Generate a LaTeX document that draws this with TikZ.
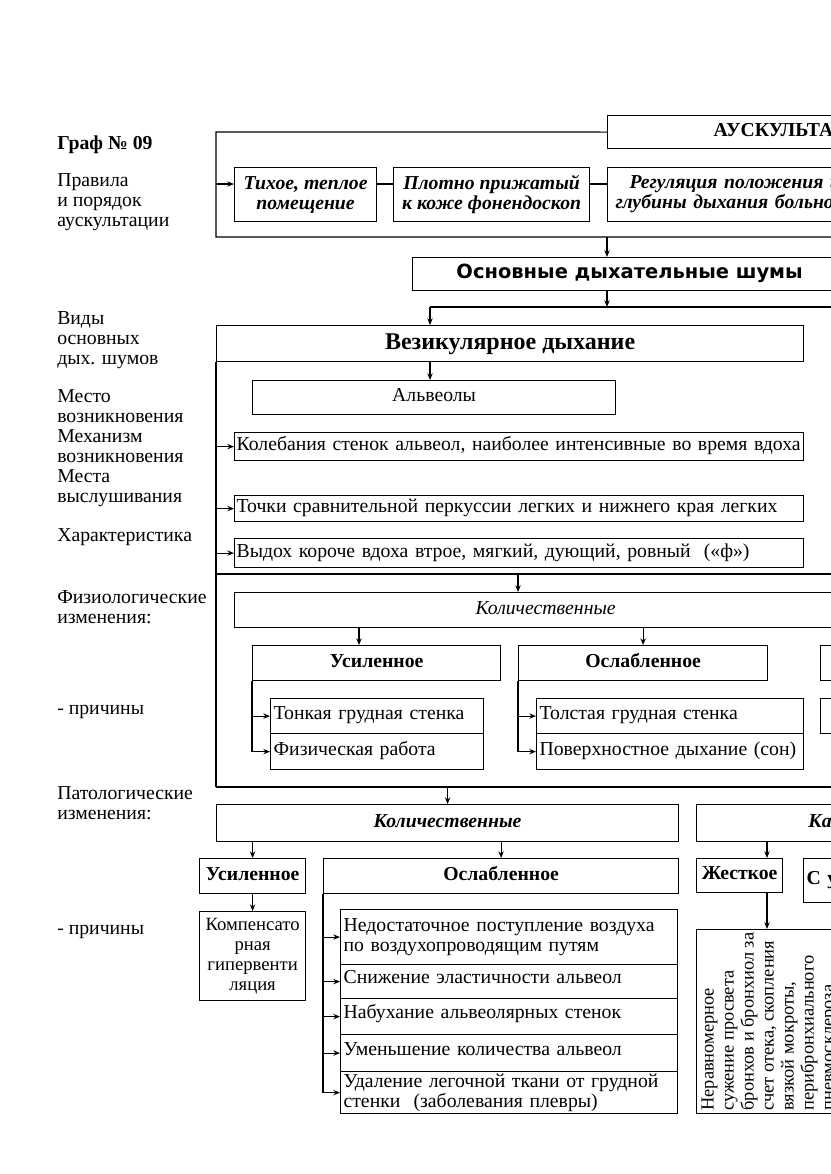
\documentclass[tikz,border=0pt]{standalone}
\usepackage{fontspec}
\setmainfont{Liberation Serif}
\newfontfamily\headsans{DejaVu Sans}
\usepackage{graphicx}
\usetikzlibrary{arrows.meta, positioning}
\newcommand{\boxfont}{\fontsize{14.8}{15}\selectfont}
\tikzset{
    box/.style={
        rectangle, draw=black, line width=0.9pt, inner sep=0pt,
        anchor=north west, align=center, font=\boxfont,
        text height=10.5pt, text depth=4pt
    },
    leftbox/.style={box, align=left},
    multi/.style={text height={}, text depth={}},
    boxsize/.style 2 args={minimum width=#1*0.75pt, minimum height=#2*0.75pt},
    sidelabel/.style={
        anchor=west, inner sep=0pt, align=left, font=\boxfont
    },
    line/.style={draw=black, line width=0.9pt},
    arrow/.style={line, -{Stealth[length=5pt, width=4pt]}}
}

\begin{document}
\begin{tikzpicture}[x=0.75pt, y=-0.75pt]
    \useasboundingbox (0,0) rectangle (831,1174);
    \clip (0,0) rectangle (831,1174);

    % LEFT LABELS
    \node[sidelabel, font=\boxfont\bfseries] (graf) at (57,145) {Граф № 09};
    \node[sidelabel] (rules) at (57,202) {Правила\\и порядок\\аускультации};
    \node[sidelabel] (kinds) at (57,340) {Виды\\основных\\дых. шумов};
    \node[sidelabel] (origin) at (57,448) {Место\\возникновения\\Механизм\\возникновения\\Места\\выслушивания};
    \node[sidelabel] (feature) at (57,537) {Характеристика};
    \node[sidelabel] (physlabel) at (57,607) {Физиологические\\изменения:};
    \node[sidelabel] (physcause) at (57,712) {- причины};
    \node[sidelabel] (pathlabel) at (57,803) {Патологические\\изменения:};
    \node[sidelabel] (pathcause) at (57,932) {- причины};

    % AUSCULTATION RULES
    \node[box, boxsize={393}{33}, font=\boxfont\bfseries, text width=135.75pt, align=left] (ausk) at (607,115) {АУСКУЛЬТА};
    \node[box, multi, boxsize={142}{54}, font=\boxfont\bfseries\itshape] (quiet) at (234,167) {Тихое, теплое\\помещение};
    \node[box, multi, boxsize={196}{54}, font=\boxfont\bfseries\itshape] (steth) at (393,167) {Плотно прижатый\\к коже фонендоскоп};
    \node[box, multi, boxsize={393}{54}, font=\boxfont\bfseries\itshape, text width=282.75pt, align=left] (posit) at (607,167) {\hspace*{10.5pt}Регуляция положения и\\глубины дыхания больно};
    \coordinate (topleft) at (216,132);
    \coordinate (botleft) at (216,237);
    \coordinate (botright) at (840,237);
    \coordinate (rowin) at (216,184);
    \draw[line] (ausk.west) -- (topleft) -- (botleft) -- (botright);
    \draw[arrow] (rowin) -- (rowin -| quiet.west);
    \draw[line] (rowin -| quiet.east) -- (rowin -| steth.west);
    \draw[line] (rowin -| steth.east) -- (rowin -| posit.west);

    % MAIN SOUNDS
    \node[box, boxsize={434}{33}, font=\headsans\bfseries\fontsize{14.6}{18}\selectfont] (osnov) at (412,257) {Основные дыхательные шумы};
    \draw[arrow] (ausk.west |- botleft) -- (ausk.west |- osnov.north);
    \coordinate (split) at (430,307);
    \coordinate (splitright) at (840,307);
    \draw[arrow] (ausk.west |- osnov.south) -- (ausk.west |- split);
    \draw[line] (split) -- (splitright);

    % VESICULAR BREATHING
    \node[box, boxsize={587}{36}, font=\bfseries\fontsize{18}{20}\selectfont, text height=12.5pt] (vez) at (216,325) {Везикулярное дыхание};
    \draw[arrow] (split) -- (split |- vez.north);
    \node[box, boxsize={363}{34}] (alv) at (252,380) {Альвеолы};
    \draw[arrow] (split |- vez.south) -- (split |- alv.north);
    \node[leftbox, boxsize={569}{28}, text width=423.75pt] (mech) at (234,432) {Колебания стенок альвеол, наиболее интенсивные во время вдоха};
    \node[leftbox, boxsize={569}{26}, text width=423.75pt] (places) at (234,495) {Точки сравнительной перкуссии легких и нижнего края легких};
    \node[leftbox, boxsize={569}{29}, text width=423.75pt] (charact) at (234,538) {Выдох короче вдоха втрое, мягкий, дующий, ровный \ («ф»)};
    \coordinate (physline) at (216,574);
    \coordinate (physright) at (840,574);
    \coordinate (pathline) at (216,787);
    \coordinate (pathright) at (840,787);
    \draw[line] (vez.south west) -- (pathline);
    \draw[line] (physline) -- (physright);
    \draw[line] (pathline) -- (pathright);
    \draw[arrow] (vez.west |- mech.west) -- (mech.west);
    \draw[arrow] (vez.west |- places.west) -- (places.west);
    \draw[arrow] (vez.west |- charact.west) -- (charact.west);

    % PHYSIOLOGICAL CHANGES
    \coordinate (physin) at (518,574);
    \coordinate (upx) at (359,0);
    \node[box, boxsize={622}{35}, font=\boxfont\itshape] (physq) at (234,592) {Количественные};
    \draw[arrow] (physin) -- (physin |- physq.north);
    \node[box, boxsize={248}{35}, font=\boxfont\bfseries] (physup) at (252,645) {Усиленное};
    \node[box, boxsize={249}{35}, font=\boxfont\bfseries] (physdown) at (518,645) {Ослабленное};
    \node[box, boxsize={80}{35}] (physthird) at (820,645) {};
    \node[box, boxsize={80}{35}] (physthirdc) at (820,698) {};
    \draw[arrow] (physq.south -| upx) -- (physup.north -| upx);
    \draw[arrow] (physq.south -| physdown.north) -- (physdown.north);
    \node[leftbox, boxsize={213}{35}, text width=155.25pt, text depth=6pt] (thin) at (270,698) {Тонкая грудная стенка};
    \node[leftbox, boxsize={213}{36}, text width=155.25pt] (work) at (270,733) {Физическая работа};
    \node[leftbox, boxsize={267}{35}, text width=195.75pt, text depth=6pt] (thick) at (536,698) {Толстая грудная стенка};
    \node[leftbox, boxsize={267}{36}, text width=195.75pt] (sleep) at (536,733) {Поверхностное дыхание (сон)};
    \draw[arrow] (physup.south west) |- (thin.west);
    \draw[arrow] (physup.south west) |- (work.west);
    \draw[arrow] (physdown.south west) |- (thick.west);
    \draw[arrow] (physdown.south west) |- (sleep.west);

    % PATHOLOGICAL CHANGES
    \node[box, boxsize={462}{37}, font=\boxfont\bfseries\itshape] (pathq) at (216,804) {Количественные};
    \draw[arrow] (pathq.north |- pathline) -- (pathq.north);
    \node[box, boxsize={247}{37}, font=\boxfont\bfseries\itshape] (pathk) at (696,804) {Ка};
    \node[box, boxsize={106}{35}, font=\boxfont\bfseries] (pathup) at (199,858) {Усиленное};
    \node[box, boxsize={355}{35}, font=\boxfont\bfseries] (pathdown) at (323,858) {Ослабленное};
    \draw[arrow] (pathq.south -| pathup.north) -- (pathup.north);
    \draw[arrow] (pathq.south -| pathdown.north) -- (pathdown.north);
    \node[box, boxsize={86}{34}, font=\boxfont\bfseries] (rigid) at (696,858) {Жесткое};
    \node[box, boxsize={100}{44}, font=\boxfont\bfseries, text width=70.5pt, align=left] (withx) at (803,858) {С у};
    \coordinate (rigidx) at (767,0);
    \draw[arrow] (pathk.south -| rigidx) -- (rigid.north -| rigidx);
    \node[box, multi, boxsize={146}{184}, font=\fontsize{13.8}{15}\selectfont] (narrow) at (696,929) {\rotatebox{90}{\begin{tabular}{@{}l@{}}
        Неравномерное\\сужение просвета\\бронхов и бронхиол за\\счет отека, скопления\\
        вязкой мокроты,\\перибронхиального\\пневмосклероза\end{tabular}}};
    \draw[arrow] (rigid.south -| rigidx) -- (narrow.north -| rigidx);

    \node[box, multi, boxsize={106}{89}, font=\fontsize{14}{15}\selectfont] (comp) at (199,911) {Компенсато\\рная\\гипервенти\\ляция};
    \draw[arrow] (pathup.south) -- (comp.north);
    \node[leftbox, multi, boxsize={337}{55}, text width=248.25pt] (lowair) at (340,909) {Недостаточное поступление воздуха\\по воздухопроводящим путям};
    \node[leftbox, boxsize={337}{34}, text width=248.25pt, text depth=7pt] (elast) at (340,964) {Снижение эластичности альвеол};
    \node[leftbox, boxsize={337}{36}, text width=248.25pt, text depth=7pt] (swell) at (340,998) {Набухание альвеолярных стенок};
    \node[leftbox, boxsize={337}{37}, text width=248.25pt, text depth=7pt] (fewer) at (340,1034) {Уменьшение количества альвеол};
    \node[leftbox, multi, boxsize={337}{42}, text width=248.25pt] (pleura) at (340,1071) {Удаление легочной ткани от грудной\\стенки \ (заболевания плевры)};
    \draw[arrow] (pathdown.south west) |- (lowair.west);
    \draw[arrow] (pathdown.south west) |- (elast.west);
    \draw[arrow] (pathdown.south west) |- (swell.west);
    \draw[arrow] (pathdown.south west) |- (fewer.west);
    \draw[arrow] (pathdown.south west) |- (pleura.west);

\end{tikzpicture}
\end{document}
